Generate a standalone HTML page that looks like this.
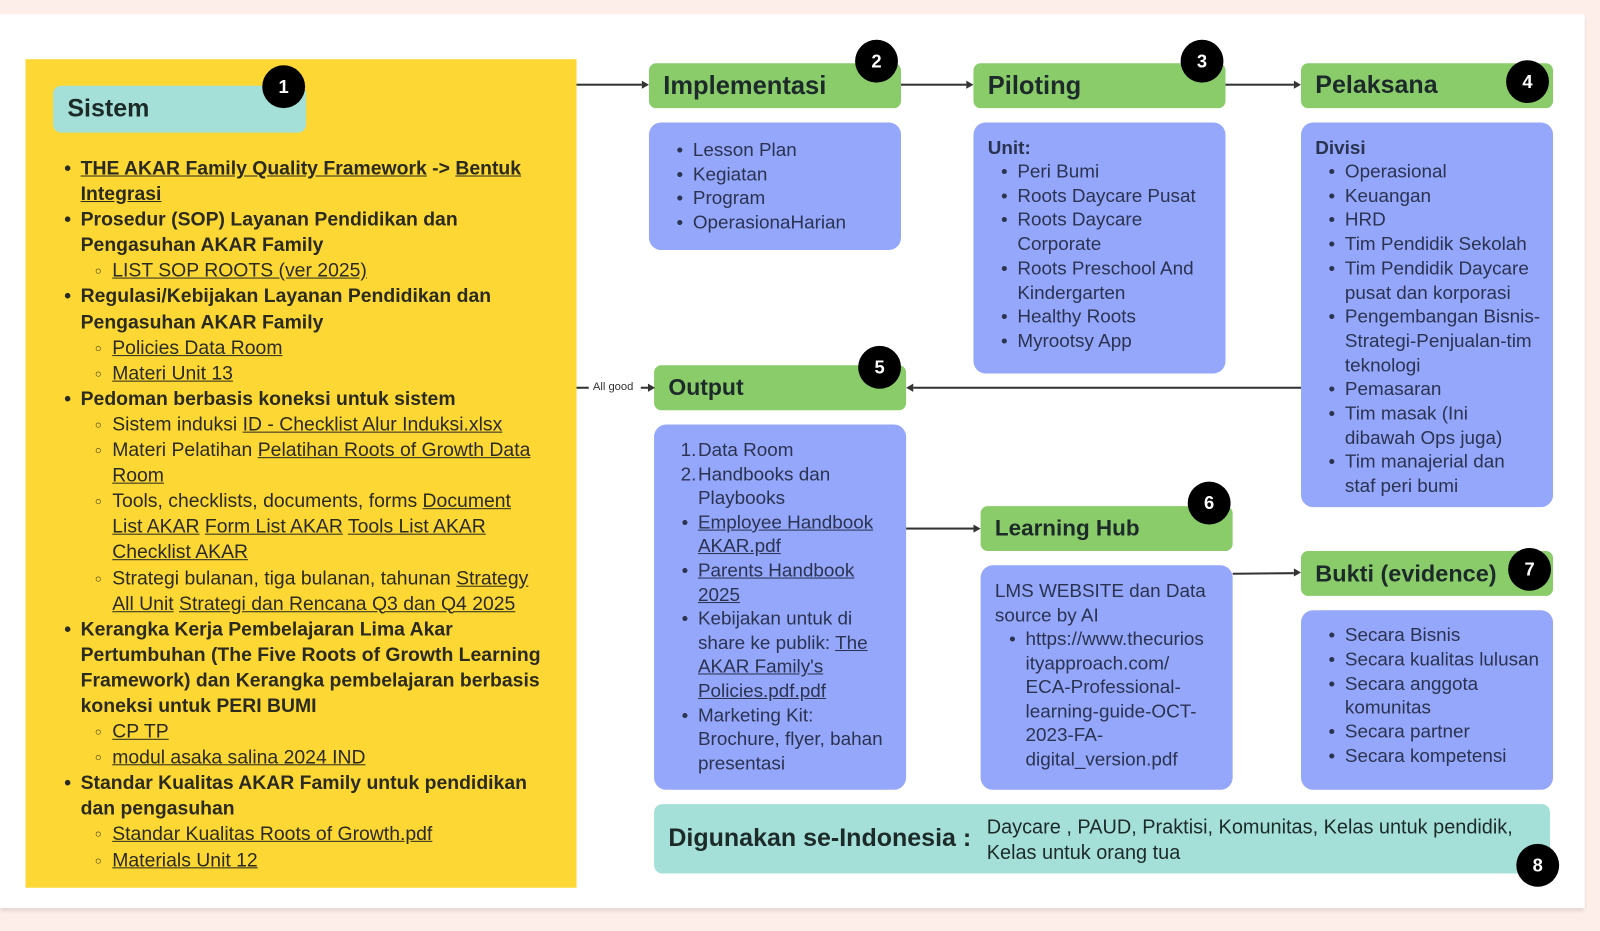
<!DOCTYPE html>
<html><head><meta charset="utf-8"><style>
*{margin:0;padding:0;box-sizing:border-box}
body{width:1600px;height:931px;background:#fdeeea;font-family:"Liberation Sans",sans-serif;position:relative;overflow:hidden;color:#2a3350}
#w{position:absolute;left:0;top:0;width:1568px;height:912px;transform:scale(1.0204);transform-origin:0 0}
.card{position:absolute;left:0;top:14px;width:1553px;height:876px;background:#fff;box-shadow:0 3px 4px rgba(0,0,0,.12)}
.a{position:absolute}
.yel{background:#fdd835}
.hd{background:#89cc69;border-radius:7px;font-weight:bold;font-size:25px;color:#1d2a2a;padding-left:14px;display:flex;align-items:center;white-space:nowrap}
.bl{background:#95a7fb;border-radius:12px}
.num{position:absolute;width:42px;height:42px;border-radius:50%;background:#000;color:#fff;font-weight:bold;font-size:18px;display:flex;align-items:center;justify-content:center}
.t{position:absolute;font-size:18.5px;white-space:nowrap}
.t div{position:relative}
.b::before{content:"•";position:absolute;left:-16px}
.c::before{content:"○";position:absolute;left:-17px;font-size:11px;top:1px}
.yl{color:#2b2a1e;font-weight:bold;line-height:25.1px;font-size:19px}
.yl .s{padding-left:31px;font-weight:normal}
.yl .s.c::before{left:14px}
u{text-decoration:underline}
.line{position:absolute;height:2px;background:#333}
.ah{position:absolute;width:0;height:0;border-top:4px solid transparent;border-bottom:4px solid transparent}
.r{border-left:7px solid #333}
.lft{border-right:7px solid #333}
</style></head><body><div id="w">
<div class="card"></div>

<div class="a yel" style="left:25px;top:58px;width:540px;height:812px"></div>
<div class="a" style="left:52px;top:84px;width:248px;height:46px;background:#a4e0d8;border-radius:8px;font-weight:bold;font-size:24.5px;color:#1d2a2a;padding:9px 0 0 14px">Sistem</div>
<div class="num" style="left:257px;top:64px">1</div>

<div class="t yl" style="left:79px;top:153px">
<div class="b"><u>THE AKAR Family Quality Framework</u> -&gt; <u>Bentuk</u></div>
<div><u>Integrasi</u></div>
<div class="b">Prosedur (SOP) Layanan Pendidikan dan</div>
<div>Pengasuhan AKAR Family</div>
<div class="s c"><u>LIST SOP ROOTS (ver 2025)</u></div>
<div class="b">Regulasi/Kebijakan Layanan Pendidikan dan</div>
<div>Pengasuhan AKAR Family</div>
<div class="s c"><u>Policies Data Room</u></div>
<div class="s c"><u>Materi Unit 13</u></div>
<div class="b">Pedoman berbasis koneksi untuk sistem</div>
<div class="s c">Sistem induksi <u>ID - Checklist Alur Induksi.xlsx</u></div>
<div class="s c">Materi Pelatihan <u>Pelatihan Roots of Growth Data</u></div>
<div class="s"><u>Room</u></div>
<div class="s c">Tools, checklists, documents, forms <u>Document</u></div>
<div class="s"><u>List AKAR</u> <u>Form List AKAR</u> <u>Tools List AKAR</u></div>
<div class="s"><u>Checklist AKAR</u></div>
<div class="s c">Strategi bulanan, tiga bulanan, tahunan <u>Strategy</u></div>
<div class="s"><u>All Unit</u> <u>Strategi dan Rencana Q3 dan Q4 2025</u></div>
<div class="b">Kerangka Kerja Pembelajaran Lima Akar</div>
<div>Pertumbuhan (The Five Roots of Growth Learning</div>
<div>Framework) dan Kerangka pembelajaran berbasis</div>
<div>koneksi untuk PERI BUMI</div>
<div class="s c"><u>CP TP</u></div>
<div class="s c"><u>modul asaka salina 2024 IND</u></div>
<div class="b">Standar Kualitas AKAR Family untuk pendidikan</div>
<div>dan pengasuhan</div>
<div class="s c"><u>Standar Kualitas Roots of Growth.pdf</u></div>
<div class="s c"><u>Materials Unit 12</u></div>
</div>

<!-- headers -->
<div class="a hd" style="left:636px;top:62px;width:247px;height:44px">Implementasi</div>
<div class="num" style="left:838px;top:39px">2</div>
<div class="a hd" style="left:954px;top:62px;width:247px;height:44px">Piloting</div>
<div class="num" style="left:1157px;top:39px">3</div>
<div class="a hd" style="left:1275px;top:62px;width:247px;height:44px;font-size:24.5px">Pelaksana</div>
<div class="num" style="left:1476px;top:59px">4</div>
<div class="a hd" style="left:641px;top:358px;width:247px;height:44px;font-size:22.5px">Output</div>
<div class="num" style="left:841px;top:339px">5</div>
<div class="a hd" style="left:961px;top:496px;width:247px;height:44px;font-size:22px">Learning Hub</div>
<div class="num" style="left:1164px;top:472px">6</div>
<div class="a hd" style="left:1275px;top:540px;width:247px;height:44px;font-size:23px">Bukti (evidence)</div>
<div class="num" style="left:1478px;top:537px">7</div>

<!-- blue boxes -->
<div class="a bl" style="left:636px;top:120px;width:247px;height:125px"></div>
<div class="t" style="left:679px;top:135px;line-height:23.7px">
<div class="b">Lesson Plan</div><div class="b">Kegiatan</div><div class="b">Program</div><div class="b">OperasionaHarian</div></div>

<div class="a bl" style="left:954px;top:120px;width:247px;height:246px"></div>
<div class="t" style="left:968px;top:133px;line-height:23.7px"><div style="font-weight:bold">Unit:</div></div>
<div class="t" style="left:997px;top:156px;line-height:23.7px">
<div class="b">Peri Bumi</div><div class="b">Roots Daycare Pusat</div><div class="b">Roots Daycare</div><div>Corporate</div><div class="b">Roots Preschool And</div><div>Kindergarten</div><div class="b">Healthy Roots</div><div class="b">Myrootsy App</div></div>

<div class="a bl" style="left:1275px;top:120px;width:247px;height:377px"></div>
<div class="t" style="left:1289px;top:133px;line-height:23.7px"><div style="font-weight:bold">Divisi</div></div>
<div class="t" style="left:1318px;top:156px;line-height:23.7px">
<div class="b">Operasional</div><div class="b">Keuangan</div><div class="b">HRD</div><div class="b">Tim Pendidik Sekolah</div><div class="b">Tim Pendidik Daycare</div><div>pusat dan korporasi</div><div class="b">Pengembangan Bisnis-</div><div>Strategi-Penjualan-tim</div><div>teknologi</div><div class="b">Pemasaran</div><div class="b">Tim masak (Ini</div><div>dibawah Ops juga)</div><div class="b">Tim manajerial dan</div><div>staf peri bumi</div></div>

<div class="a bl" style="left:641px;top:416px;width:247px;height:358px"></div>
<div class="t" style="left:684px;top:429px;line-height:23.6px">
<div><span style="position:absolute;left:-17px">1.</span>Data Room</div>
<div><span style="position:absolute;left:-17px">2.</span>Handbooks dan</div>
<div>Playbooks</div>
<div class="b"><u>Employee Handbook</u></div><div><u>AKAR.pdf</u></div>
<div class="b"><u>Parents Handbook</u></div><div><u>2025</u></div>
<div class="b">Kebijakan untuk di</div><div>share ke publik: <u>The</u></div><div><u>AKAR Family's</u></div><div><u>Policies.pdf.pdf</u></div>
<div class="b">Marketing Kit:</div><div>Brochure, flyer, bahan</div><div>presentasi</div></div>

<div class="a bl" style="left:961px;top:554px;width:247px;height:220px"></div>
<div class="t" style="left:975px;top:567px;line-height:23.6px"><div>LMS WEBSITE dan Data</div><div>source by AI</div></div>
<div class="t" style="left:1005px;top:614px;line-height:23.6px">
<div class="b">https://www.thecurios</div><div>ityapproach.com/</div><div>ECA-Professional-</div><div>learning-guide-OCT-</div><div>2023-FA-</div><div>digital_version.pdf</div></div>

<div class="a bl" style="left:1275px;top:598px;width:247px;height:176px"></div>
<div class="t" style="left:1318px;top:610px;line-height:23.8px">
<div class="b">Secara Bisnis</div><div class="b">Secara kualitas lulusan</div><div class="b">Secara anggota</div><div>komunitas</div><div class="b">Secara partner</div><div class="b">Secara kompetensi</div></div>

<!-- bottom bar -->
<div class="a" style="left:641px;top:788px;width:878px;height:68px;background:#a4e0d8;border-radius:8px"></div>
<div class="t" style="left:655px;top:808px;font-weight:bold;font-size:24.5px;color:#1d2a2a">Digunakan se-Indonesia :</div>
<div class="t" style="left:967px;top:799px;line-height:25px;color:#1d2a2a;font-size:19.5px"><div>Daycare , PAUD, Praktisi, Komunitas, Kelas untuk pendidik,</div><div>Kelas untuk orang tua</div></div>
<div class="num" style="left:1486px;top:827px">8</div>

<!-- connectors -->
<div class="line" style="left:565px;top:82px;width:64px"></div><div class="ah r" style="left:629px;top:79px"></div>
<div class="line" style="left:883px;top:82px;width:64px"></div><div class="ah r" style="left:947px;top:79px"></div>
<div class="line" style="left:1201px;top:82px;width:67px"></div><div class="ah r" style="left:1268px;top:79px"></div>
<div class="line" style="left:895px;top:379px;width:380px"></div><div class="ah lft" style="left:888px;top:376px"></div>
<div class="line" style="left:565px;top:379px;width:12px"></div>
<div class="t" style="left:581px;top:373px;font-size:11px;color:#333">All good</div>
<div class="line" style="left:628px;top:379px;width:7px"></div><div class="ah r" style="left:635px;top:376px"></div>
<div class="line" style="left:888px;top:517px;width:66px"></div><div class="ah r" style="left:954px;top:514px"></div>
<div class="line" style="left:1208px;top:561px;width:60px;transform:rotate(-0.5deg)"></div><div class="ah r" style="left:1268px;top:557px"></div>
</div></body></html>
